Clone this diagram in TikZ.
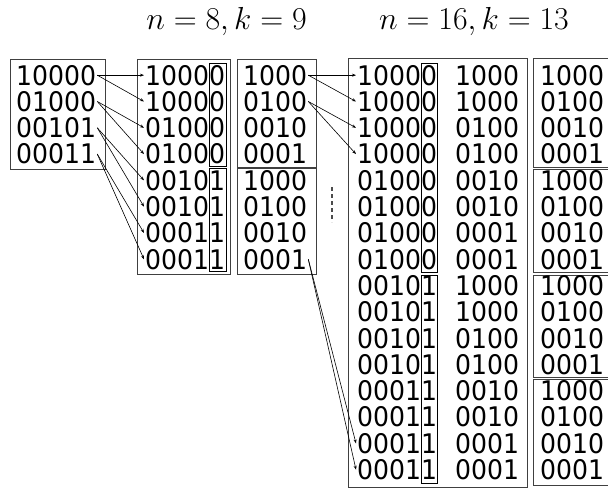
\documentclass[tikz,border=0pt]{standalone}
\usepackage{fontspec}
\usetikzlibrary{arrows.meta}
\newfontfamily\digfont{DejaVu Sans}[FakeStretch=0.93]
\tikzset{
  row/.style={anchor=base west, inner sep=1pt, font=\digfont\fontsize{27}{27}\selectfont},
  outerbox/.style={draw=black!75, line width=0.9pt},
  innerbox/.style={draw=black, line width=0.7pt},
  link/.style={draw=black, line width=0.6pt, -{Stealth[length=4pt,width=3pt]}},
  title/.style={anchor=base, inner sep=0pt, scale=1.28, font=\fontsize{30}{30}\selectfont}
}
\begin{document}
\begin{tikzpicture}[x=1pt,y=-1pt]
\useasboundingbox (0,0) rectangle (608,490);
% titles
\node[title] (t1) at (226.5,29) {$n=8,k=9$};
\node[title] (t2) at (474,29) {$n=16,k=13$};
% boxes
\draw[outerbox] (10,59) rectangle (105,169);
\draw[outerbox] (137,59) rectangle (230,274);
\draw[innerbox] (209,63) rectangle (226,166);
\draw[innerbox] (209,168) rectangle (226,271);
\draw[outerbox] (237,59) rectangle (316,167);
\draw[outerbox] (237,168) rectangle (316,274);
\draw[outerbox] (348,58) rectangle (527,487);
\draw[innerbox] (421,63) rectangle (437,272);
\draw[innerbox] (421,275) rectangle (437,483);
\draw[outerbox] (533,58) rectangle (612,167);
\draw[outerbox] (533,169) rectangle (612,272);
\draw[outerbox] (533,275) rectangle (612,377);
\draw[outerbox] (533,379) rectangle (612,485);
% dashed continuation
\draw[black!70, line width=1.8pt, dash pattern=on 4pt off 3pt] (332,187) -- (332,222);
% rows
\foreach \t [count=\i] in {10000,01000,00101,00011}
  \node[row] (a\i) at (15,{85+(\i-1)*26.3}) {\t};
\foreach \t [count=\i] in {10000,10000,01000,01000,00101,00101,00011,00011}
  \node[row] (b\i) at (144,{85+(\i-1)*26.3}) {\t};
\foreach \t [count=\i] in {1000,0100,0010,0001,1000,0100,0010,0001}
  \node[row] (c\i) at (242,{85+(\i-1)*26.3}) {\t};
\foreach \t [count=\i] in {10000,10000,10000,10000,01000,01000,01000,01000,00101,00101,00101,00101,00011,00011,00011,00011}
  \node[row] (d\i) at (356,{85+(\i-1)*26.3}) {\t};
\foreach \t [count=\i] in {1000,1000,0100,0100,0010,0010,0001,0001,1000,1000,0100,0100,0010,0010,0001,0001}
  \node[row] (f\i) at (454,{85+(\i-1)*26.3}) {\t};
\foreach \t [count=\i] in {1000,0100,0010,0001,1000,0100,0010,0001,1000,0100,0010,0001,1000,0100,0010,0001}
  \node[row] (e\i) at (539,{85+(\i-1)*26.3}) {\t};
% arrows A -> B
\draw[link] (a1.east) -- (b1.west);
\draw[link] (a1.east) -- (b2.west);
\draw[link] (a2.east) -- (b3.west);
\draw[link] (a2.east) -- (b4.west);
\draw[link] (a3.east) -- (b5.west);
\draw[link] (a3.east) -- (b6.west);
\draw[link] (a4.east) -- (b7.west);
\draw[link] (a4.east) -- (b8.west);
% arrows C -> D
\draw[link] (c1.east) -- (d1.west);
\draw[link] (c1.east) -- (d2.west);
\draw[link] (c2.east) -- (d3.west);
\draw[link] (c2.east) -- (d4.west);
\draw[link] (c8.east) -- (d15.west);
\draw[link] (c8.east) -- (d16.west);
\end{tikzpicture}
\end{document}
